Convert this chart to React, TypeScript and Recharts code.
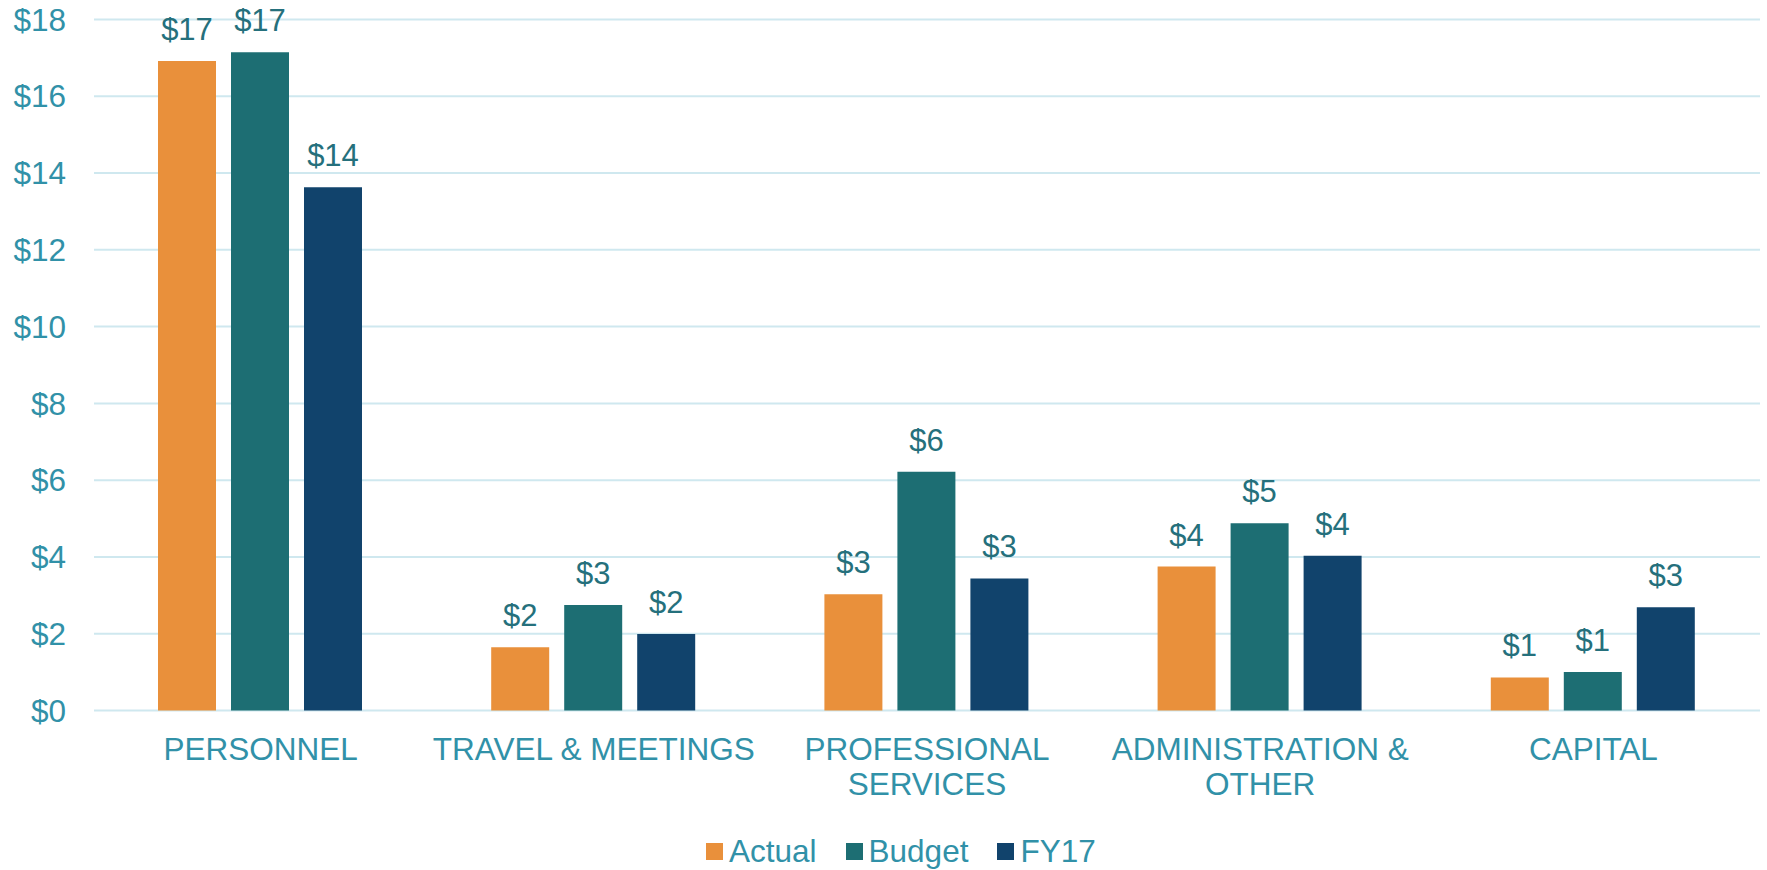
import { BarChart, Bar, XAxis, YAxis, CartesianGrid, Legend, LabelList } from "recharts";

// values in $ millions
const categories = [
  "PERSONNEL",
  "TRAVEL & MEETINGS",
  "PROFESSIONAL\nSERVICES",
  "ADMINISTRATION &\nOTHER",
  "CAPITAL",
];
const actual = [16.92, 1.65, 3.03, 3.75, 0.86];
const budget = [17.15, 2.75, 6.22, 4.88, 1.0];
const fy17 = [13.63, 1.99, 3.44, 4.03, 2.69];
const yTicks = [0, 2, 4, 6, 8, 10, 12, 14, 16, 18];

const series = [
  { key: "actual", name: "Actual", color: "#E9903B" },
  { key: "budget", name: "Budget", color: "#1D6E73" },
  { key: "fy17", name: "FY17", color: "#11436C" },
];

const data = categories.map((name, i) => ({
  name,
  actual: actual[i],
  budget: budget[i],
  fy17: fy17[i],
}));

const FONT = "'Liberation Sans', Arial, sans-serif";
const AXIS_TEXT = "#3191A8";
const LABEL_TEXT = "#25707C";
const GRID = "#CFE8EF";

const money = (v: any) => `$${Math.round(Number(v))}`;

function CategoryTick({ x, y, payload }: any) {
  const lines = String(payload.value).split("\n");
  return (
    <text x={x} y={y} textAnchor="middle" fill={AXIS_TEXT} fontSize={31.5} fontFamily={FONT}>
      {lines.map((line, i) => (
        <tspan key={i} x={x} dy={i === 0 ? 41 : 35.5}>
          {line}
        </tspan>
      ))}
    </text>
  );
}

function LegendContent({ payload }: any) {
  return (
    <div style={{ display: "flex", alignItems: "center", fontFamily: FONT, fontSize: 31.5, lineHeight: "31.5px", color: AXIS_TEXT, whiteSpace: "nowrap" }}>
      {(payload || []).map((p: any) => (
        <div key={p.value} style={{ display: "flex", alignItems: "center", marginRight: 29 }}>
          <span style={{ width: 17, height: 17, background: p.color, marginRight: 6, display: "inline-block" }} />
          <span>{p.value}</span>
        </div>
      ))}
    </div>
  );
}

export default function App() {
  return (
    <div style={{ position: "absolute", left: 0, top: 0, background: "#fff" }}>
      <BarChart
        width={1767}
        height={870}
        data={data}
        margin={{ top: 19.5, right: 7, bottom: 99.5, left: 0 }}
        barCategoryGap={64}
        barGap={15}
      >
        <CartesianGrid vertical={false} stroke={GRID} strokeWidth={2} />
        <XAxis
          dataKey="name"
          axisLine={false}
          tickLine={false}
          height={60}
          interval={0}
          tick={<CategoryTick />}
        />
        <YAxis
          width={94}
          domain={[0, 18]}
          ticks={yTicks}
          axisLine={false}
          tickLine={false}
          tickMargin={22}
          tickFormatter={(v) => `$${v}`}
          tick={{ fill: AXIS_TEXT, fontSize: 31.5, fontFamily: FONT }}
        />
        <Legend
          layout="horizontal"
          align="center"
          verticalAlign="middle"
          content={<LegendContent />}
          wrapperStyle={{ left: 706, top: 836, width: "auto" }}
        />
        {series.map((s) => (
          <Bar key={s.key} dataKey={s.key} name={s.name} fill={s.color} isAnimationActive={false}>
            <LabelList
              dataKey={s.key}
              position="top"
              offset={21}
              formatter={money}
              fill={LABEL_TEXT}
              fontSize={31}
              fontFamily={FONT}
            />
          </Bar>
        ))}
      </BarChart>
    </div>
  );
}
